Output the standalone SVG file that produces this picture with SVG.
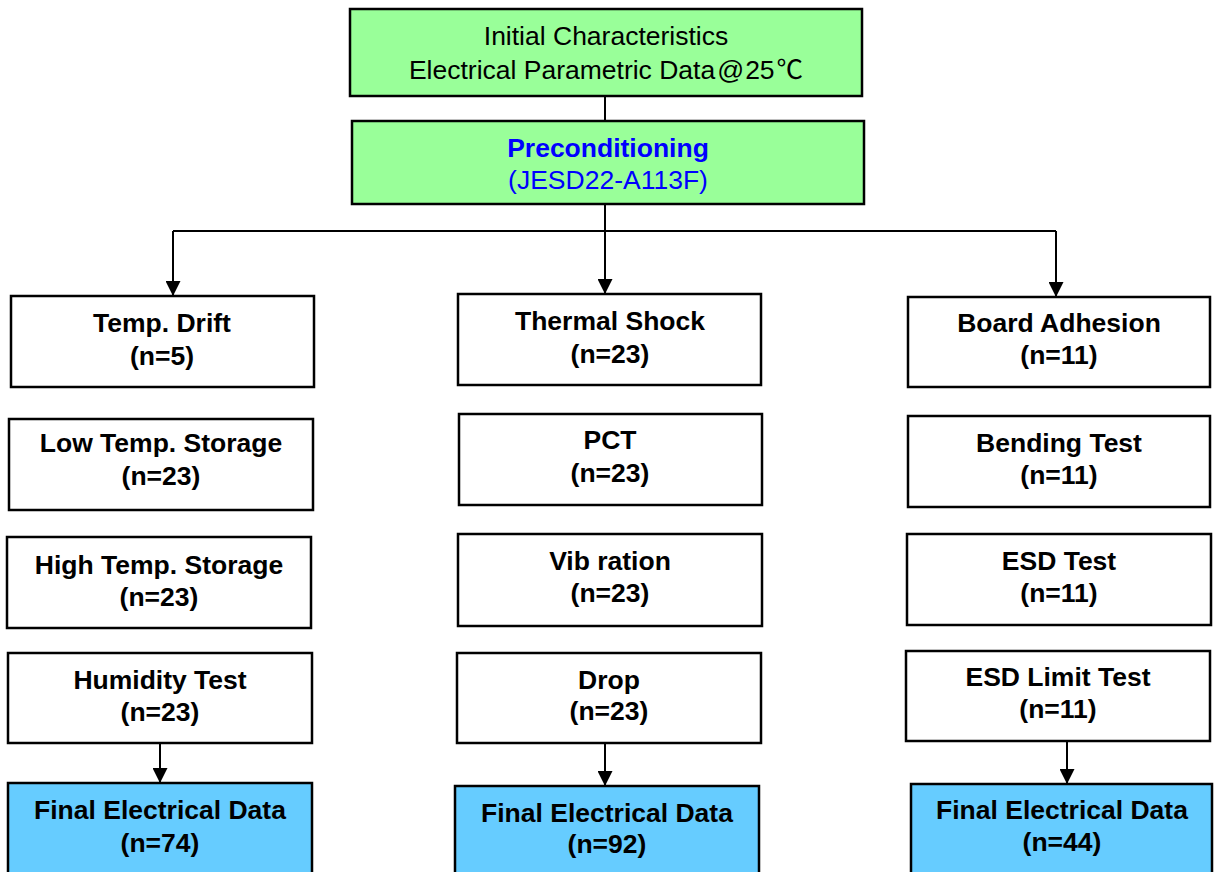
<svg xmlns="http://www.w3.org/2000/svg" width="1215" height="872" viewBox="0 0 1215 872">
<style>
.box{fill:#ffffff;stroke:#000000;stroke-width:2.5}
.green{fill:#99FF99;stroke:#000000;stroke-width:2.5}
.blue{fill:#66CCFF;stroke:#000000;stroke-width:2.5}
text{font-family:"Liberation Sans",Arial,"Noto Sans CJK SC",sans-serif;font-size:26.5px;text-anchor:middle;fill:#000000}
.b{font-weight:bold}
.conn{stroke:#000000;stroke-width:2;fill:none}
</style>
<defs>
<marker id="arr" markerUnits="userSpaceOnUse" markerWidth="15" markerHeight="15" refX="15" refY="7.5" orient="auto">
<path d="M0,0 L15,7.5 L0,15 Z" fill="#000000"/>
</marker>
</defs>
<g id="connectors">
<line class="conn" x1="605" y1="96" x2="605" y2="121"/>
<line class="conn" x1="605" y1="204" x2="605" y2="294" marker-end="url(#arr)"/>
<line class="conn" x1="173" y1="231" x2="1056" y2="231"/>
<line class="conn" x1="173" y1="231" x2="173" y2="296" marker-end="url(#arr)"/>
<line class="conn" x1="1056" y1="231" x2="1056" y2="297" marker-end="url(#arr)"/>
<line class="conn" x1="160" y1="743" x2="160" y2="783" marker-end="url(#arr)"/>
<line class="conn" x1="605" y1="743" x2="605" y2="786" marker-end="url(#arr)"/>
<line class="conn" x1="1067" y1="741" x2="1067" y2="784" marker-end="url(#arr)"/>
</g>
<g id="initial">
<rect class="green" x="350" y="9" width="512" height="87"/>
<text x="606" y="45">Initial Characteristics</text>
<text x="606" y="79">Electrical Parametric Data<tspan dx="2">@</tspan><tspan dx="1">25</tspan><tspan dx="2" font-family="'Noto Sans CJK SC',sans-serif">℃</tspan></text>
</g>
<g id="precond">
<rect class="green" x="352" y="121" width="512" height="83"/>
<text x="608" y="157" class="b" style="fill:#0000FF">Preconditioning</text>
<text x="608" y="189" style="fill:#0000FF">(JESD22-A113F)</text>
</g>
<g id="tempdrift">
<rect class="box" x="11" y="296" width="303" height="91"/>
<text x="162" y="332" class="b">Temp. Drift</text>
<text x="162" y="365" class="b">(n=5)</text>
</g>
<g id="lowtemp">
<rect class="box" x="9" y="419" width="304" height="91"/>
<text x="161" y="452" class="b">Low Temp. Storage</text>
<text x="161" y="485" class="b">(n=23)</text>
</g>
<g id="hightemp">
<rect class="box" x="7" y="537" width="304" height="91"/>
<text x="159" y="574" class="b">High Temp. Storage</text>
<text x="159" y="606" class="b">(n=23)</text>
</g>
<g id="humidity">
<rect class="box" x="8" y="653" width="304" height="90"/>
<text x="160" y="689" class="b">Humidity Test</text>
<text x="160" y="721" class="b">(n=23)</text>
</g>
<g id="final1">
<rect class="blue" x="8" y="783" width="304" height="95"/>
<text x="160" y="819" class="b">Final Electrical Data</text>
<text x="160" y="852" class="b">(n=74)</text>
</g>
<g id="thermal">
<rect class="box" x="458" y="294" width="303" height="91"/>
<text x="610" y="330" class="b">Thermal Shock</text>
<text x="610" y="363" class="b">(n=23)</text>
</g>
<g id="pct">
<rect class="box" x="459" y="414" width="303" height="91"/>
<text x="610" y="449" class="b">PCT</text>
<text x="610" y="482" class="b">(n=23)</text>
</g>
<g id="vibration">
<rect class="box" x="458" y="534" width="304" height="92"/>
<text x="610" y="570" class="b">Vib ration</text>
<text x="610" y="602" class="b">(n=23)</text>
</g>
<g id="drop">
<rect class="box" x="457" y="653" width="304" height="90"/>
<text x="609" y="689" class="b">Drop</text>
<text x="609" y="720" class="b">(n=23)</text>
</g>
<g id="final2">
<rect class="blue" x="455" y="786" width="304" height="92"/>
<text x="607" y="822" class="b">Final Electrical Data</text>
<text x="607" y="853" class="b">(n=92)</text>
</g>
<g id="board">
<rect class="box" x="908" y="297" width="302" height="90"/>
<text x="1059" y="332" class="b">Board Adhesion</text>
<text x="1059" y="364" class="b">(n=11)</text>
</g>
<g id="bending">
<rect class="box" x="908" y="416" width="302" height="91"/>
<text x="1059" y="452" class="b">Bending Test</text>
<text x="1059" y="484" class="b">(n=11)</text>
</g>
<g id="esd">
<rect class="box" x="907" y="534" width="304" height="91"/>
<text x="1059" y="570" class="b">ESD Test</text>
<text x="1059" y="602" class="b">(n=11)</text>
</g>
<g id="esdlimit">
<rect class="box" x="906" y="651" width="304" height="90"/>
<text x="1058" y="686" class="b">ESD Limit Test</text>
<text x="1058" y="718" class="b">(n=11)</text>
</g>
<g id="final3">
<rect class="blue" x="911" y="784" width="301" height="94"/>
<text x="1062" y="819" class="b">Final Electrical Data</text>
<text x="1062" y="851" class="b">(n=44)</text>
</g>
</svg>
